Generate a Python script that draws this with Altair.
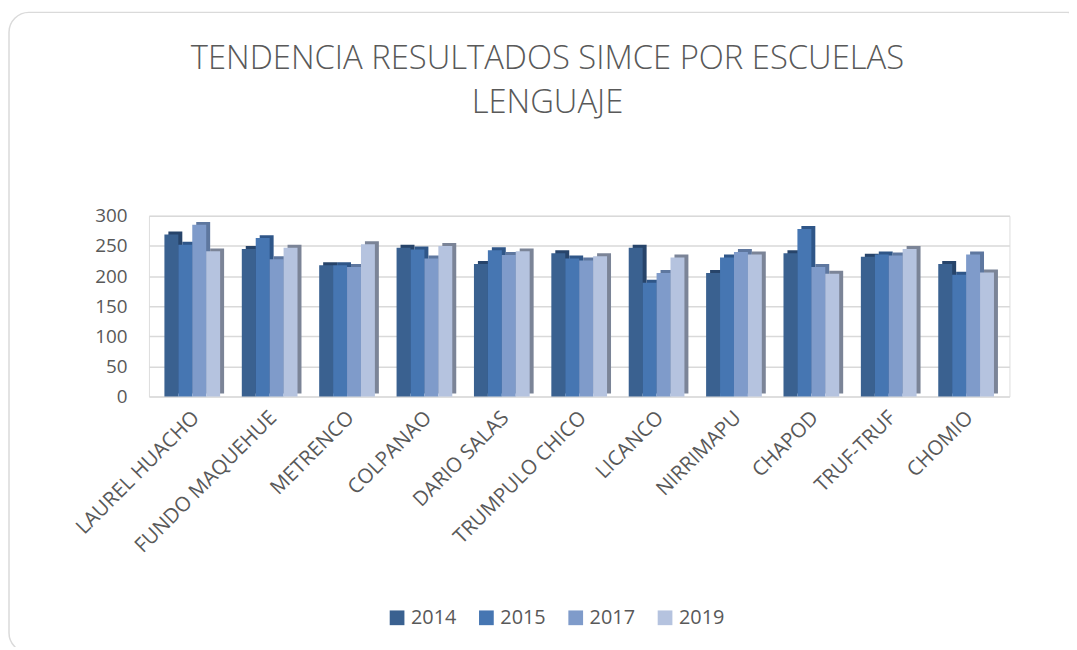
import altair as alt
import pandas as pd

schools = ["LAUREL HUACHO", "FUNDO MAQUEHUE", "METRENCO", "COLPANAO", "DARIO SALAS",
           "TRUMPULO CHICO", "LICANCO", "NIRRIMAPU", "CHAPOD", "TRUF-TRUF", "CHOMIO"]
years = ["2014", "2015", "2017", "2019"]
v2014 = [269, 245, 218, 247, 220, 238, 247, 205, 238, 232, 220]
v2015 = [252, 263, 218, 244, 243, 229, 189, 231, 278, 236, 202]
v2017 = [285, 228, 215, 229, 235, 226, 205, 240, 215, 234, 236]
v2019 = [241, 247, 253, 250, 241, 233, 231, 236, 204, 245, 206]

front_colors = ["#3A6190", "#4676B2", "#7F9BCA", "#B5C3DF"]
side_colors = ["#27446A", "#2F5688", "#5E779F", "#7B8497"]

rows = []
for yr, vals in zip(years, [v2014, v2015, v2017, v2019]):
    for s, v in zip(schools, vals):
        rows.append({"escuela": s, "year": yr, "valor": v})
df = pd.DataFrame(rows)

font = "Open Sans"
gray = "#595959"

W, H = 867, 182
P_IN, P_OUT = 0.28, 0.2
step = W / (len(schools) - P_IN + 2 * P_OUT)
band = step * (1 - P_IN)
depth = 4

x_enc = alt.X("escuela:N", sort=schools, title=None,
              scale=alt.Scale(paddingInner=P_IN, paddingOuter=P_OUT),
              axis=alt.Axis(labelAngle=-45, labelAlign="right", labelBaseline="middle",
                            labelFontSize=20.5, labelColor=gray, labelFont=font,
                            ticks=False, domain=False, labelPadding=18, labelOffset=4,
                            grid=False, labelOverlap=False, labelLimit=300))
y_enc = alt.Y("valor:Q", title=None,
              scale=alt.Scale(domain=[0, 300], nice=False),
              axis=alt.Axis(values=[0, 50, 100, 150, 200, 250, 300], labelFontSize=19,
                            labelColor=gray, labelFont=font, ticks=False, domain=False,
                            gridColor="#D9D9D9", gridWidth=1.5, labelPadding=22))

card = alt.Chart(pd.DataFrame({"k": [0]})).mark_rect(
    fill="transparent", stroke="#DADADA", strokeWidth=1.5, cornerRadius=20
).encode(x=alt.value(-141), x2=alt.value(945), y=alt.value(-205), y2=alt.value(440))

side = alt.Chart(df).mark_bar(yOffset=-3).encode(
    x=x_enc,
    xOffset=alt.XOffset("year:N", sort=years,
                        scale=alt.Scale(range=[depth, band + depth], paddingInner=0, paddingOuter=0)),
    y=y_enc,
    color=alt.Color("year:N", sort=years,
                    scale=alt.Scale(domain=years, range=side_colors), legend=None),
)

front = alt.Chart(df).mark_bar().encode(
    x=x_enc,
    xOffset=alt.XOffset("year:N", sort=years,
                        scale=alt.Scale(range=[0, band], paddingInner=0, paddingOuter=0)),
    y=y_enc,
    color=alt.Color("year:N", sort=years, title=None,
                    scale=alt.Scale(domain=years, range=front_colors),
                    legend=alt.Legend(orient="none", direction="horizontal",
                                      legendX=240, legendY=395,
                                      symbolType="square", symbolSize=220,
                                      symbolStrokeWidth=0, labelFontSize=20,
                                      labelColor=gray, labelFont=font,
                                      columnPadding=20, symbolOffset=0)),
)

chart = alt.layer(card, side, front).resolve_scale(color="independent", xOffset="independent").properties(
    width=W, height=H,
    autosize="none",
    padding={"left": 142, "top": 207, "right": 60, "bottom": 250},
    title=alt.TitleParams(["TENDENCIA RESULTADOS SIMCE POR ESCUELAS", "LENGUAJE"],
                          font=font, fontSize=33, fontWeight=300, color=gray,
                          anchor="middle", offset=-109, lineHeight=44, dx=-32),
).configure_view(stroke=None).configure(background="white")

chart.save("out.html", embed_options={"renderer": "svg", "actions": False})
